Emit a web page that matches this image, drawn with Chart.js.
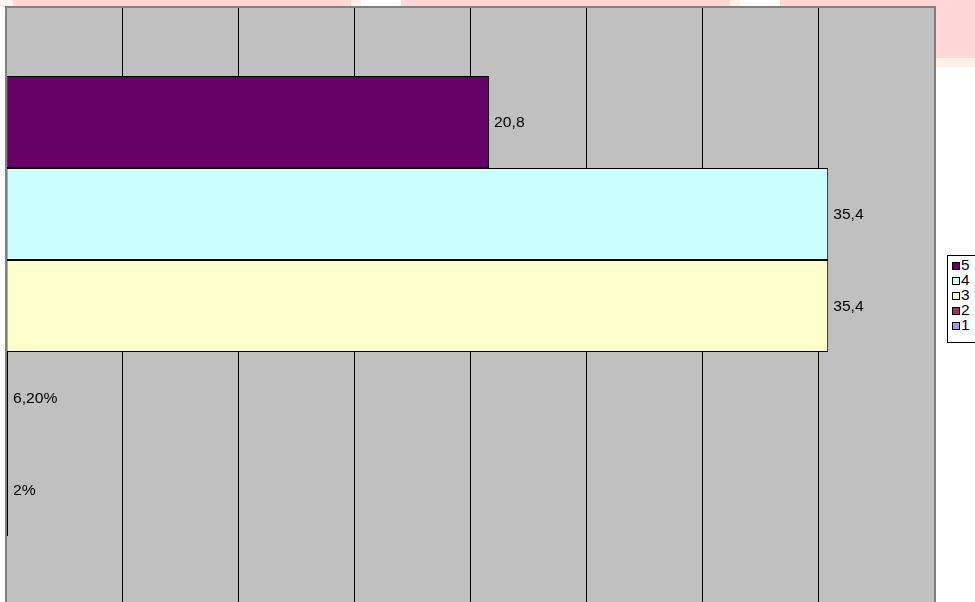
<!DOCTYPE html>
<html>
<head>
<meta charset="utf-8">
<script src="https://cdn.jsdelivr.net/npm/chart.js@4.4.1/dist/chart.umd.min.js"></script>
<style>
  html, body { margin: 0; padding: 0; background: #fff; }
  #wrap { position: relative; width: 975px; height: 602px; overflow: hidden; font-family: "Liberation Sans", Arial, sans-serif; }
  .bg { position: absolute; }
  #chart-box { position: absolute; left: 0; top: 0; width: 975px; height: 608px; }
  #legend { position: absolute; left: 947px; top: 255px; width: 40px; height: 84px; padding-top: 2px; border: 1px solid #000; background: #fff; }
  #legend div { height: 15px; line-height: 15px; font-size: 14px; color: #000; padding-left: 4px; white-space: nowrap; }
  #legend span.box { display: inline-block; width: 6px; height: 6px; border: 1px solid #000; margin-right: 1px; vertical-align: 0px; }
  #legend span.txt { display: inline-block; transform: scaleX(1.1); transform-origin: left center; }
</style>
</head>
<body>
<div id="wrap">
  <!-- fondo rosado de la captura -->
  <div class="bg" style="left:0;top:0;width:13px;height:7px;background:#fff5ee"></div>
  <div class="bg" style="left:13px;top:0;width:338px;height:7px;background:#ffd7d7"></div>
  <div class="bg" style="left:351px;top:0;width:10px;height:7px;background:#fff0e8"></div>
  <div class="bg" style="left:401px;top:0;width:329px;height:7px;background:#ffd7d7"></div>
  <div class="bg" style="left:730px;top:0;width:10px;height:7px;background:#fff0e8"></div>
  <div class="bg" style="left:780px;top:0;width:195px;height:7px;background:#ffd7d7"></div>
  <div class="bg" style="left:930px;top:0;width:45px;height:58px;background:#ffd7d7"></div>
  <div class="bg" style="left:930px;top:58px;width:45px;height:9px;background:#fff0e8"></div>
  <div id="chart-box"><canvas id="chart"></canvas></div>
  <div id="legend"></div>
</div>
<script>
// Datos del gráfico
const seriesNames = ["5", "4", "3", "2", "1"];
const seriesValues = [20.8, 35.4, 35.4, 0.062, 0.02];
const valueLabels = ["20,8", "35,4", "35,4", "6,20%", "2%"];
const seriesColors = ["#660066", "#CCFFFF", "#FFFFCC", "#993366", "#9999FF"];
const categories = [""];

// Fondo gris del área de trazado
const plotBackground = {
    id: "plotBackground",
    beforeDraw(chart) {
        const { ctx, chartArea: a } = chart;
        ctx.save();
        ctx.fillStyle = "#C0C0C0";
        ctx.fillRect(a.left, a.top, a.right - a.left, a.bottom - a.top);
        ctx.restore();
    },
    afterDraw(chart) {
        const { ctx, chartArea: a } = chart;
        ctx.save();
        ctx.strokeStyle = "#808080";
        ctx.lineWidth = 2;
        ctx.strokeRect(a.left, a.top, a.right - a.left, a.bottom - a.top);
        ctx.restore();
    }
};

// Etiquetas de valor junto a cada barra (texto algo estirado, como en la imagen)
const valueLabelPlugin = {
    id: "valueLabelPlugin",
    afterDatasetsDraw(chart) {
        const ctx = chart.ctx;
        chart.data.datasets.forEach((ds, i) => {
            const bar = chart.getDatasetMeta(i).data[0];
            ctx.save();
            ctx.font = "14px 'Liberation Sans', Arial, sans-serif";
            ctx.fillStyle = "#000";
            ctx.textBaseline = "middle";
            ctx.translate(bar.x + 5, bar.y + 1);
            ctx.scale(1.12, 1);
            ctx.fillText(valueLabels[i], 0, 0);
            ctx.restore();
        });
    }
};

new Chart(document.getElementById("chart").getContext("2d"), {
    type: "bar",
    data: {
        labels: categories,
        datasets: seriesNames.map((name, i) => ({
            label: name,
            data: [seriesValues[i]],
            backgroundColor: seriesColors[i],
            borderColor: "#000",
            borderWidth: 1,
            borderSkipped: false,
            minBarLength: 2
        }))
    },
    options: {
        indexAxis: "y",
        responsive: true,
        maintainAspectRatio: false,
        animation: false,
        categoryPercentage: 0.769,
        barPercentage: 1,
        layout: { padding: { left: 6, top: 7, right: 40, bottom: 3 } },
        plugins: {
            legend: { display: false },
            tooltip: { enabled: false }
        },
        scales: {
            x: {
                min: 0,
                max: 40,
                ticks: { display: false, stepSize: 5 },
                grid: { color: "#000", lineWidth: 1, drawTicks: false },
                border: { display: false }
            },
            y: {
                ticks: { display: false },
                grid: { display: false, drawTicks: false },
                border: { display: false }
            }
        }
    },
    plugins: [plotBackground, valueLabelPlugin]
});

// Leyenda en HTML
const legend = document.getElementById("legend");
seriesNames.forEach((name, i) => {
    const row = document.createElement("div");
    row.innerHTML = `<span class="box" style="background:${seriesColors[i]}"></span><span class="txt">${name}</span>`;
    legend.appendChild(row);
});
</script>
</body>
</html>
